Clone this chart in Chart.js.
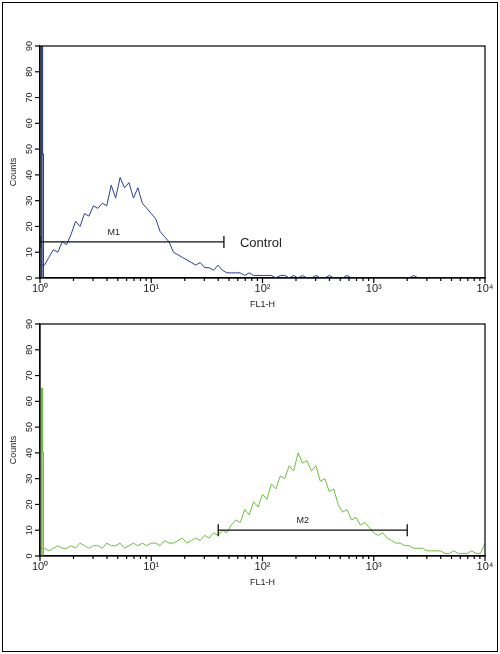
<!DOCTYPE html>
<html><head><meta charset="utf-8">
<script src="https://cdn.jsdelivr.net/npm/chart.js@4/dist/chart.umd.min.js"></script>
<style>
body{margin:0;background:#fff;width:500px;height:654px;position:relative;overflow:hidden;font-family:Arial,"Liberation Sans",sans-serif}
#frame{position:absolute;left:2px;top:2px;width:494px;height:648px;border:1px solid #000}
.c{position:absolute;left:0;width:500px;height:290px}
</style></head><body>
<div id="frame"></div>
<div class="c" style="top:20px"><canvas id="c1"></canvas></div>
<div class="c" style="top:298px"><canvas id="c2"></canvas></div>
<script>
const channelsPerDecade = 25;
const controlCounts = [5,5,8,11,10,14,13,17,22,20,25,24,28,27,29,28,36,31,39,35,37,31,35,29,27,25,
23,18,16,14,10,9,8,7,6,5,6,4,4,3,5,3,2,2,2,2,1,2,1,1,1,
1,1,0,1,1,0,1,0,1,0,0,1,0,0,1,0,0,0,1,0,0,0,0,0,0,
0,0,0,0,0,0,0,0,1,0,0,0,0,0,0,0,0,0,0,0,0,0,0,0,0];
const sampleCounts = [3,3,2,3,4,3,3,4,3,5,4,3,4,4,3,5,4,4,5,3,4,5,4,5,4,5,
5,4,6,5,5,6,7,5,6,7,6,8,7,9,8,10,9,12,14,13,18,16,21,19,24,
22,28,26,31,30,35,33,40,36,37,33,35,29,30,25,26,20,17,18,14,15,12,13,11,9,
8,9,7,6,5,5,4,4,3,3,3,2,2,2,2,1,1,2,1,1,1,2,1,1,5];
const controlSpike = [90, 48];
const sampleSpike = [65, 40];
const xTickLabels = {1:'10⁰',10:'10¹',100:'10²',1000:'10³',10000:'10⁴'};
const yTicks = [0,10,20,30,40,50,60,70,80,90];
const gateM1 = {from:1, to:45, y:14, label:'M1', labelAt:4.6, note:'Control'};
const gateM2 = {from:40, to:2000, y:10, label:'M2', labelAt:230, note:''};

function toPoints(counts){ return counts.map((v,i)=>({x:Math.pow(10,i/channelsPerDecade), y:v})); }

const boxPlugin = {
  id:'box',
  afterDraw(chart){
    const {ctx, chartArea:a, scales:{x,y}} = chart;
    const g = chart.options.plugins.box;
    ctx.save();
    ctx.strokeStyle='#000'; ctx.lineWidth=1.2;
    ctx.strokeRect(a.left, a.top, a.right-a.left, a.bottom-a.top);
    ctx.beginPath();
    for(let d=1; d<=10000; d*=10){
      for(let m=1; m<10; m++){
        const v=d*m; if(v>10000) break;
        const px=x.getPixelForValue(v);
        ctx.moveTo(px,a.bottom); ctx.lineTo(px,a.bottom+(m===1?5:3));
      }
    }
    ctx.stroke();
    ctx.fillStyle='#222'; ctx.font='9px Arial';
    ctx.textAlign='center'; ctx.textBaseline='bottom';
    yTicks.forEach(t=>{
      const py=y.getPixelForValue(t);
      ctx.save(); ctx.translate(a.left-6, py); ctx.rotate(-Math.PI/2); ctx.fillText(String(t),0,0); ctx.restore();
      ctx.beginPath(); ctx.moveTo(a.left-5,py); ctx.lineTo(a.left,py); ctx.stroke();
    });
    ctx.save(); ctx.translate(a.left-22,(a.top+a.bottom)/2+10); ctx.rotate(-Math.PI/2); ctx.font='9px Arial'; ctx.fillText('Counts',0,0); ctx.restore();
    const x1=x.getPixelForValue(g.from), x2=x.getPixelForValue(g.to), gy=y.getPixelForValue(g.y);
    ctx.lineWidth=1.3; ctx.strokeStyle='#111';
    ctx.beginPath(); ctx.moveTo(x1,gy); ctx.lineTo(x2,gy);
    ctx.moveTo(x1,gy-6); ctx.lineTo(x1,gy+6); ctx.moveTo(x2,gy-6); ctx.lineTo(x2,gy+6); ctx.stroke();
    ctx.font='9px Arial'; ctx.textAlign='center'; ctx.textBaseline='bottom'; ctx.fillStyle='#222';
    ctx.fillText(g.label, x.getPixelForValue(g.labelAt), gy-5);
    if(g.note){ ctx.font='13px Arial'; ctx.textAlign='left'; ctx.textBaseline='middle'; ctx.fillText(g.note, x2+16, gy+2); }
    ctx.restore();
  }
};

function make(id, counts, spike, color, gate){
  new Chart(document.getElementById(id), {
    type:'line',
    data:{datasets:[
      {data:toPoints(counts), borderColor:color, borderWidth:1, pointRadius:0, tension:0},
      {data:[{x:1.03,y:0},{x:1.03,y:spike[0]},{x:1.05,y:spike[0]},{x:1.05,y:spike[1]},{x:1.07,y:spike[1]},{x:1.07,y:0}], borderColor:color, borderWidth:1.5, pointRadius:0}
    ]},
    options:{
      responsive:true, maintainAspectRatio:false, animation:false,
      layout:{padding:{top:26,right:15,left:0,bottom:0}},
      plugins:{legend:{display:false}, tooltip:{enabled:false}, box:gate},
      scales:{
        x:{type:'logarithmic', min:1, max:10000,
          grid:{drawOnChartArea:false, drawTicks:false},
          border:{color:'#000', width:1.2},
          ticks:{autoSkip:false, maxRotation:0, color:'#222', font:{size:11}, padding:4,
            callback:(v)=>xTickLabels[v]||''},
          title:{display:true, text:'FL1-H', color:'#222', font:{size:9}, padding:{top:0,bottom:0}}
        },
        y:{min:0, max:90,
          afterFit(s){ s.width=40; },
          grid:{display:false}, border:{color:'#000', width:1.2},
          ticks:{stepSize:10, callback:()=>''}
        }
      }
    },
    plugins:[boxPlugin]
  });
}
make('c1', controlCounts, controlSpike, '#2b3f94', gateM1);
make('c2', sampleCounts, sampleSpike, '#6cc03c', gateM2);
</script></body></html>
